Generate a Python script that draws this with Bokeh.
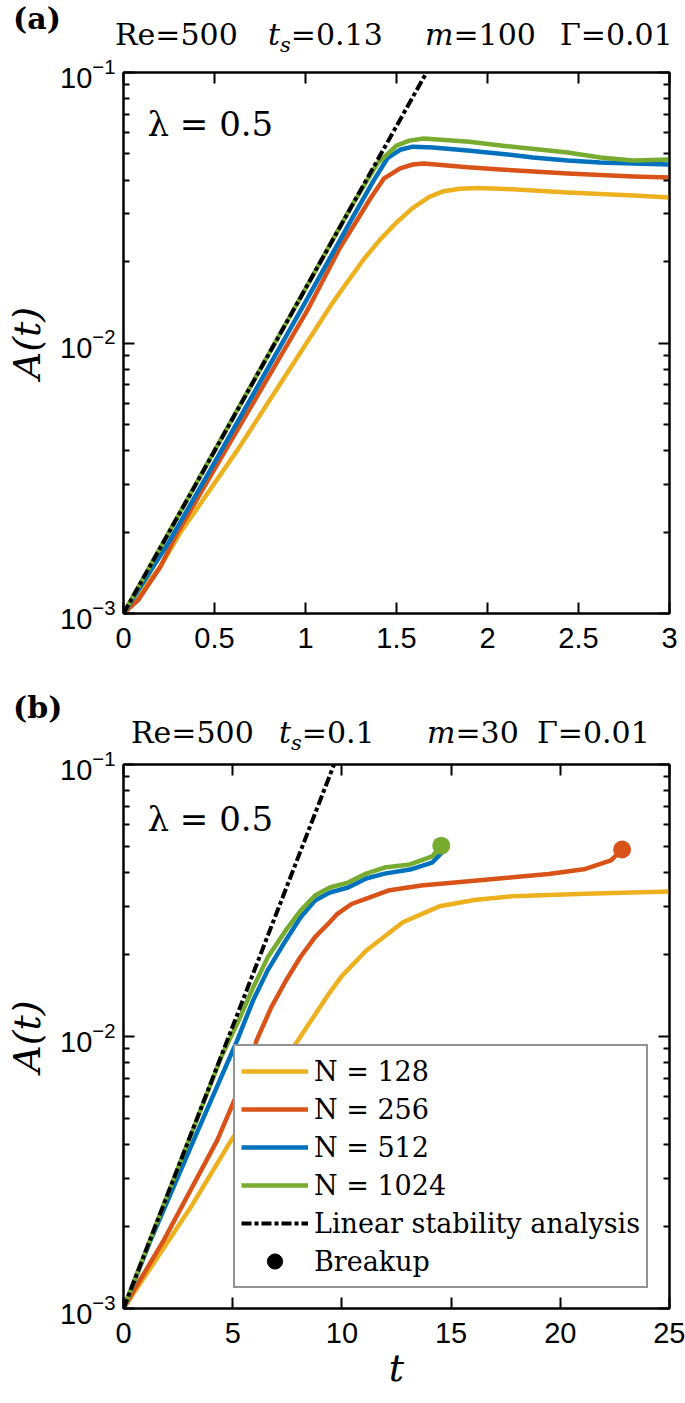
from bokeh.plotting import figure
from bokeh.models import (Range1d, FixedTicker, LogAxis, LinearAxis, Label, Legend,
                          LegendItem, CustomJSTickFormatter, Div)
from bokeh.layouts import column
from bokeh.embed import file_html
from bokeh.resources import INLINE

# ---------------- data ----------------
Y_TICKS = [1e-3, 1e-2, 1e-1]
Y_MINOR = [2e-3, 3e-3, 4e-3, 5e-3, 6e-3, 7e-3, 8e-3, 9e-3,
           2e-2, 3e-2, 4e-2, 5e-2, 6e-2, 7e-2, 8e-2, 9e-2]
XA_TICKS = [0, 0.5, 1, 1.5, 2, 2.5, 3]
XB_TICKS = [0, 5, 10, 15, 20, 25]

COLORS = {"128": "#EDB120", "256": "#D95319", "512": "#0072BD", "1024": "#77AC30"}

# panel (a): Re=500, ts=0.13, m=100
a_t_128 = [0, 0.1, 0.2, 0.31, 0.625, 1.14, 1.23, 1.32, 1.41, 1.5, 1.59, 1.68, 1.76, 1.85,
           1.95, 2.07, 2.44, 2.80, 3.0]
a_A_128 = [0.001, 0.00122, 0.00148, 0.00198, 0.00401, 0.0138, 0.0168, 0.0204, 0.0241, 0.0279,
           0.0316, 0.0347, 0.0364, 0.0372, 0.0374, 0.0372, 0.0360, 0.0351, 0.0345]
a_t_256 = [0, 0.08, 0.2, 0.295, 0.56, 1.01, 1.19, 1.36, 1.43, 1.52, 1.59, 1.65, 1.89, 2.07,
           2.44, 2.8, 3.0]
a_A_256 = [0.001, 0.00112, 0.00148, 0.00198, 0.00401, 0.0132, 0.02255, 0.0345, 0.0405, 0.0442,
           0.0457, 0.0461, 0.0446, 0.0438, 0.0423, 0.0413, 0.0409]
a_t_512 = [0, 0.25, 0.5, 1.0, 1.25, 1.375, 1.45, 1.52, 1.59, 1.7, 1.89, 2.07, 2.25, 2.44,
           2.62, 2.8, 3.0]
a_A_512 = [0.001, 0.00184, 0.00361, 0.0142, 0.0284, 0.0399, 0.0482, 0.0518, 0.0532, 0.0528,
           0.0515, 0.0501, 0.0485, 0.0473, 0.0465, 0.0461, 0.0457]
a_t_1024 = [0, 0.5, 1.0, 1.25, 1.395, 1.5, 1.57, 1.65, 1.9, 2.07, 2.44, 2.62, 2.8, 3.0]
a_A_1024 = [0.001, 0.0040, 0.0159, 0.0318, 0.0461, 0.0537, 0.0560, 0.0570, 0.0555, 0.0537,
            0.0506, 0.0485, 0.0473, 0.0477]
a_t_lsa = [0, 1.665]
a_A_lsa = [0.001, 0.1]

# panel (b): Re=500, ts=0.1, m=30
b_t_128 = [0, 1.08, 3.07, 4.93, 7.77, 9.44, 10.0, 11.12, 12.79, 14.46, 16.14, 17.81, 21.15, 25]
b_A_128 = [0.001, 0.00135, 0.00235, 0.00415, 0.00912, 0.0145, 0.0167, 0.0207, 0.0263, 0.0301,
           0.0318, 0.0328, 0.0335, 0.0341]
b_t_256 = [0, 0.46, 1.84, 4.29, 5.85, 6.09, 6.77, 7.44, 8.10, 8.77, 9.44, 9.78, 10.44, 11.12,
           12.12, 13.63, 15.30, 17.81, 19.48, 21.15, 22.32, 22.83]
b_A_256 = [0.001, 0.00116, 0.00178, 0.00415, 0.00816, 0.00966, 0.01283, 0.01607, 0.0196,
           0.0232, 0.0263, 0.0282, 0.0307, 0.0321, 0.0344, 0.0359, 0.0369, 0.0385, 0.0396,
           0.0413, 0.0444, 0.0487]
b_t_512 = [0, 1.2, 3.21, 5.2, 5.93, 6.6, 7.42, 8.1, 8.77, 9.44, 10.28, 11.11, 11.95, 13.12,
           14.13, 14.75]
b_A_512 = [0.001, 0.00175, 0.00415, 0.00966, 0.01355, 0.0175, 0.0225, 0.0274, 0.0316, 0.0338,
           0.0353, 0.0381, 0.0397, 0.0411, 0.0436, 0.0490]
b_t_1024 = [0, 2.5, 4.5, 5.27, 5.93, 6.6, 7.42, 8.1, 8.77, 9.44, 10.28, 11.11, 11.95, 13.12,
            14.13, 14.55]
b_A_1024 = [0.001, 0.0033, 0.0085, 0.01145, 0.0151, 0.0195, 0.0245, 0.0290, 0.0330, 0.0353,
            0.0368, 0.0397, 0.0418, 0.0429, 0.0459, 0.0503]
b_t_lsa = [0, 9.64]
b_A_lsa = [0.001, 0.1]
b_t_break = [14.55, 22.83]
b_A_break = [0.0503, 0.0487]
b_break_col = [COLORS["1024"], COLORS["256"]]

SERIF = "DejaVu Serif"
SANS = "Liberation Sans"
LSA_DASH = "10 3 4 3"
W = 685


def style_axis(ax, labels, minor=False, standoff=10):
    ax.axis_line_width = 2
    ax.axis_line_color = "black"
    ax.major_tick_in = 11
    ax.major_tick_out = 0
    ax.major_tick_line_width = 2
    ax.major_tick_line_color = "black"
    ax.minor_tick_in = 6 if minor else 0
    ax.minor_tick_out = 0
    ax.minor_tick_line_width = 2
    ax.minor_tick_line_color = "black" if minor else None
    ax.major_label_text_font = SANS
    ax.major_label_text_color = "black"
    if labels:
        ax.major_label_text_font_size = "29px"
        ax.major_label_standoff = standoff
    else:
        ax.formatter = CustomJSTickFormatter(code="return ''")
        ax.major_label_text_font_size = "1px"
        ax.major_label_standoff = 0


def make_panel(xr, xticks, height, top, bottom, series, lsa, xlabel):
    p = figure(width=W, height=height, x_range=Range1d(*xr), y_range=Range1d(1e-3, 1e-1),
               y_axis_type="log", output_backend="svg", toolbar_location=None,
               min_border_left=123, min_border_right=16, min_border_top=top,
               min_border_bottom=bottom, background_fill_color="white",
               border_fill_color="white", border_fill_alpha=0.0)
    p.grid.visible = False
    p.outline_line_color = "black"
    p.outline_line_width = 2

    xb = p.xaxis[0]
    yl = p.yaxis[0]
    xb.ticker = FixedTicker(ticks=xticks)
    style_axis(xb, True, standoff=14)
    yl.ticker = FixedTicker(ticks=Y_TICKS, minor_ticks=Y_MINOR)
    style_axis(yl, True, minor=True, standoff=8)
    yl.axis_label = "A(t)"
    yl.axis_label_text_font = SERIF
    yl.axis_label_text_font_style = "italic"
    yl.axis_label_text_font_size = "38px"
    yl.axis_label_text_color = "black"
    yl.axis_label_standoff = 8
    if xlabel:
        xb.axis_label = xlabel
        xb.axis_label_text_font = SERIF
        xb.axis_label_text_font_style = "italic"
        xb.axis_label_text_font_size = "38px"
        xb.axis_label_text_color = "black"
        xb.axis_label_standoff = 0

    right = LogAxis(ticker=FixedTicker(ticks=Y_TICKS, minor_ticks=Y_MINOR))
    style_axis(right, False, minor=True)
    p.add_layout(right, "right")
    topax = LinearAxis(ticker=FixedTicker(ticks=xticks))
    style_axis(topax, False)
    p.add_layout(topax, "above")

    rends = {}
    for key, t, A in series:
        rends[key] = p.line(t, A, line_color=COLORS[key], line_width=4.5, line_join="round")
    rends["lsa"] = p.line(lsa[0], lsa[1], line_color="black", line_width=4, line_dash=LSA_DASH)
    return p, rends


def span(left, baseline, html, size=30, weight="normal"):
    off = 0.5 * size * (1 - 1.164) + 0.928 * size
    return (f'<span style="position:absolute;left:{left}px;top:{baseline - off:.1f}px;'
            f'font-size:{size}px;line-height:1;font-weight:{weight};white-space:nowrap;">'
            f'{html}</span>')


SUB = '<span style="font-size:21px;font-style:italic;position:relative;top:7px;">s</span>'


def header_div(height, tag, tag_base, base, lefts, ts_val, m_val):
    parts = [
        span(13, tag_base, tag, 30, "bold"),
        span(lefts[0], base, "Re=500"),
        span(lefts[1], base, f"<i>t</i>{SUB}={ts_val}"),
        span(lefts[2], base, f"<i>m</i>={m_val}"),
        span(lefts[3], base, "\u0393=0.01"),
    ]
    html = (f'<div style="position:relative;width:{W}px;height:{height}px;overflow:visible;'
            f"font-family:'DejaVu Serif';color:black;\">" + "".join(parts) + "</div>")
    return Div(text=html, width=W, height=height, margin=0,
               styles={"overflow": "visible", "z-index": "1"})


def lam_label(p):
    p.add_layout(Label(x=24, y=490, x_units="screen", y_units="screen", text="\u03bb = 0.5",
                       text_font=SERIF, text_font_size="34px", text_baseline="alphabetic",
                       text_color="black"))


# ---------------- panel (a) ----------------
div_a = header_div(50, "(a)", 29, 45, [115, 268, 425, 560], "0.13", "100")
pa, ra = make_panel((0, 3), XA_TICKS, 640, 22, 77,
                    [("128", a_t_128, a_A_128), ("256", a_t_256, a_A_256),
                     ("512", a_t_512, a_A_512), ("1024", a_t_1024, a_A_1024)],
                    (a_t_lsa, a_A_lsa), None)
lam_label(pa)

# ---------------- panel (b) ----------------
div_b = header_div(54, "(b)", 28, 53, [131, 279, 427, 537], "0.1", "30")
pb, rb = make_panel((0, 25), XB_TICKS, 659, 20, 95,
                    [("128", b_t_128, b_A_128), ("256", b_t_256, b_A_256),
                     ("512", b_t_512, b_A_512), ("1024", b_t_1024, b_A_1024)],
                    (b_t_lsa, b_A_lsa), "t")
pb.scatter(b_t_break, b_A_break, size=18, color=b_break_col, line_color=None)
proxy = pb.scatter(x=[b_t_break[0]], y=[b_A_break[0]], size=17, color="black", visible=False)
lam_label(pb)

legend = Legend(items=[
    LegendItem(label="N = 128", renderers=[rb["128"]]),
    LegendItem(label="N = 256", renderers=[rb["256"]]),
    LegendItem(label="N = 512", renderers=[rb["512"]]),
    LegendItem(label="N = 1024", renderers=[rb["1024"]]),
    LegendItem(label="Linear stability analysis", renderers=[rb["lsa"]]),
    LegendItem(label="Breakup", renderers=[proxy]),
], location=(110, 20), padding=6, spacing=0, margin=0, glyph_width=67, glyph_height=38,
    label_height=38, label_standoff=6, label_text_font=SERIF, label_text_font_size="27px",
    label_text_color="black", border_line_color="#262626", border_line_width=2,
    background_fill_color="white", background_fill_alpha=1.0)
pb.add_layout(legend)

layout = column(div_a, pa, div_b, pb, spacing=0)
open("out.html", "w").write(file_html(layout, INLINE))
